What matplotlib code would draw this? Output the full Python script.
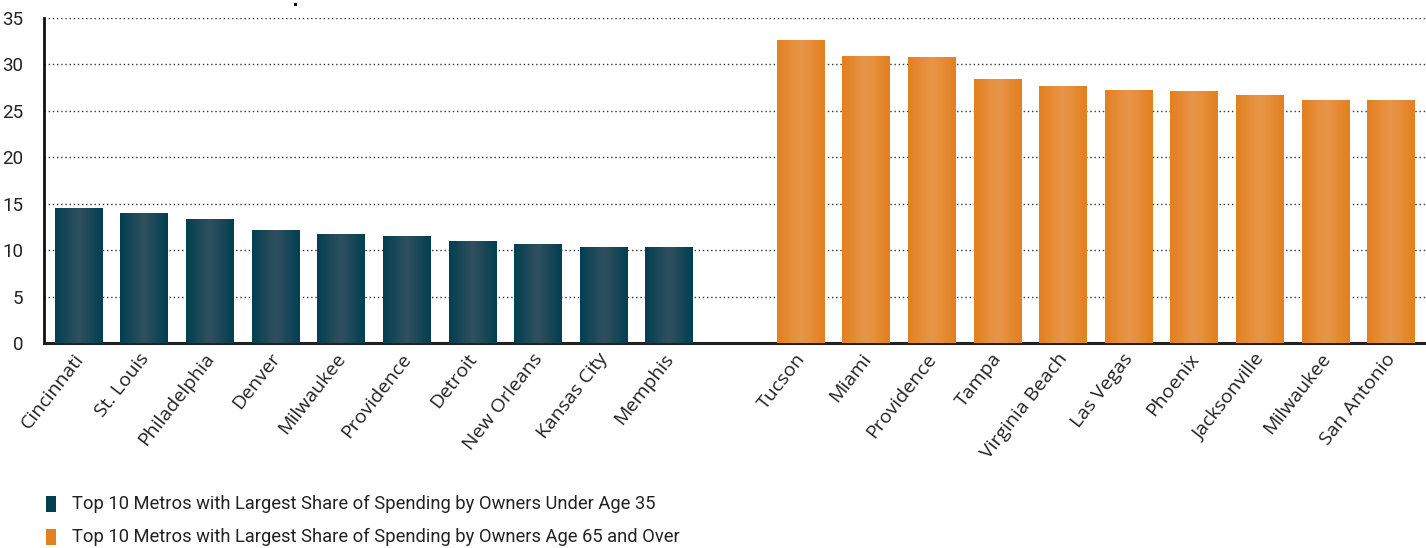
import numpy as np
import matplotlib
matplotlib.use("Agg")
import matplotlib.pyplot as plt
from matplotlib.patches import Rectangle
from matplotlib.colors import LinearSegmentedColormap
from matplotlib.transforms import ScaledTranslation

plt.rcParams['font.family'] = ['Roboto', 'DejaVu Sans']

young_metros = ["Cincinnati", "St. Louis", "Philadelphia", "Denver", "Milwaukee",
                "Providence", "Detroit", "New Orleans", "Kansas City", "Memphis"]
young_values = [14.5, 14.0, 13.35, 12.15, 11.75, 11.5, 11.0, 10.65, 10.35, 10.35]

old_metros = ["Tucson", "Miami", "Providence", "Tampa", "Virginia Beach",
              "Las Vegas", "Phoenix", "Jacksonville", "Milwaukee", "San Antonio"]
old_values = [32.6, 30.9, 30.8, 28.4, 27.65, 27.2, 27.1, 26.7, 26.15, 26.15]

legend_labels = ["Top 10 Metros with Largest Share of Spending by Owners Under Age 35",
                 "Top 10 Metros with Largest Share of Spending by Owners Age 65 and Over"]
yticks = [0, 5, 10, 15, 20, 25, 30, 35]

teal_edge, teal_mid = "#033f52", "#30505f"
orange_edge, orange_mid = "#e38020", "#e8964a"

W, H = 1426, 548
fig = plt.figure(figsize=(W / 100, H / 100), dpi=100)
ax = fig.add_axes([44 / W, 1 - 343 / H, 1 - 44 / W, (343 - 18) / H])

x_young = np.arange(len(young_metros))
x_old = np.arange(len(old_metros)) + len(young_metros) + 1
width = 0.73

def grad_bars(xs, vals, edge, mid):
    cmap = LinearSegmentedColormap.from_list("g", [edge, mid, edge])
    grad = np.linspace(0, 1, 64).reshape(1, -1)
    bars = ax.bar(xs, vals, width=width, color=edge, zorder=2, linewidth=0)
    for b in bars:
        x0, y0 = b.get_x(), b.get_y()
        im = ax.imshow(grad, cmap=cmap, aspect='auto', zorder=3,
                       extent=[x0, x0 + b.get_width(), y0, y0 + b.get_height()],
                       interpolation='bicubic')
        im.set_clip_path(b)
    return bars

grad_bars(x_young, young_values, teal_edge, teal_mid)
grad_bars(x_old, old_values, orange_edge, orange_mid)

ax.set_xlim(-0.53, 20.53)
ax.set_ylim(0, 35)
ax.set_yticks(yticks)
ax.set_yticklabels([str(t) for t in yticks], fontsize=13.5, color="#222222")
ax.tick_params(axis='y', length=0, pad=15)
ax.set_xticks(list(x_young) + list(x_old))
ax.set_xticklabels(young_metros + old_metros, rotation=52, ha='right',
                   rotation_mode='anchor', fontsize=14, color="#222222",
                   family=['Open Sans', 'DejaVu Sans'])
ax.tick_params(axis='x', length=0, pad=5)
shift = ScaledTranslation(-6 / 100, 0, fig.dpi_scale_trans)
for lab in ax.get_xticklabels():
    lab.set_transform(lab.get_transform() + shift)

ax.grid(axis='y', linestyle=(0, (1, 2)), color='#333333', linewidth=1.0, zorder=0)
ax.set_axisbelow(True)
for s in ['top', 'right']:
    ax.spines[s].set_visible(False)
ax.spines['left'].set_linewidth(2)
ax.spines['bottom'].set_linewidth(2.2)
ax.spines['left'].set_color('#111111')
ax.spines['bottom'].set_color('#222222')

# legend
for i, (lab, col) in enumerate(zip(legend_labels, [teal_edge, orange_edge])):
    yc = 503.5 + 33 * i
    fig.patches.append(Rectangle((46 / W, 1 - (yc + 8) / H), 10 / W, 16 / H,
                                 transform=fig.transFigure, facecolor=col,
                                 edgecolor='none'))
    fig.text(72 / W, 1 - yc / H, lab, fontsize=13.2, color="#222222",
             ha='left', va='center')

# small mark at top
fig.patches.append(Rectangle((294 / W, 1 - 6 / H), 3 / W, 3 / H,
                             transform=fig.transFigure, facecolor='black',
                             edgecolor='none'))

fig.savefig("out.png", dpi=100)
